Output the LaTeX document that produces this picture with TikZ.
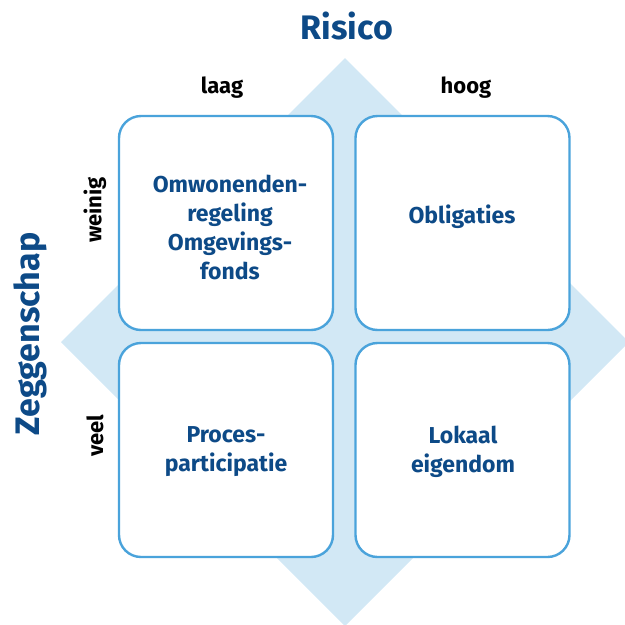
\documentclass[tikz,border=0pt]{standalone}
\usepackage{fontspec}
\setmainfont{Fira Sans}
\definecolor{dblue}{HTML}{0D4A87}
\definecolor{lblue}{HTML}{4AA3DB}
\definecolor{dfill}{HTML}{D2E8F5}
\begin{document}
\begin{tikzpicture}[x=1pt,y=-1pt,
  cell/.style={draw=lblue, line width=2.4pt, fill=white, rounded corners=22pt,
    minimum width=214pt, minimum height=214pt, inner sep=0pt},
  celltext/.style={text=dblue, font=\fontsize{23}{29}\selectfont\bfseries, align=center, inner sep=0pt},
  axislabel/.style={text=dblue, font=\fontsize{34}{40}\selectfont\bfseries, inner sep=0pt},
  levellabel/.style={text=black, font=\fontsize{22}{26}\selectfont\bfseries, inner sep=0pt}]
\useasboundingbox (0,0) rectangle (625,625);
\clip (0,0) rectangle (625,625);
% background diamond
\fill[dfill] (345,58) -- (629,342) -- (345,626) -- (61,342) -- cycle;
% cells
\node[cell] (tl) at (226,223) {};
\node[cell] (tr) at (462.5,223) {};
\node[cell] (bl) at (226,450) {};
\node[cell] (br) at (462.5,450) {};
% cell texts
\node[celltext] (ttl) at (230,227.5) {Omwonenden-\\regeling\\Omgevings-\\fonds};
\node[celltext] (ttr) at (462,217) {Obligaties};
\node[celltext] (tbl) at (226,452) {Proces-\\participatie};
\node[celltext] (tbr) at (463,452) {Lokaal\\eigendom};
% axis labels
\node[axislabel, anchor=base] (risico) at (347,39) {Risico};
\node[axislabel, rotate=90] (zeg) at (30,334) {Zeggenschap};
% level labels
\node[levellabel, anchor=base] (laag) at (222,93) {laag};
\node[levellabel, anchor=base] (hoog) at (466,93) {hoog};
\node[levellabel, rotate=90] (weinig) at (95,210) {weinig};
\node[levellabel, rotate=90] (veel) at (95,436) {veel};
\end{tikzpicture}
\end{document}
